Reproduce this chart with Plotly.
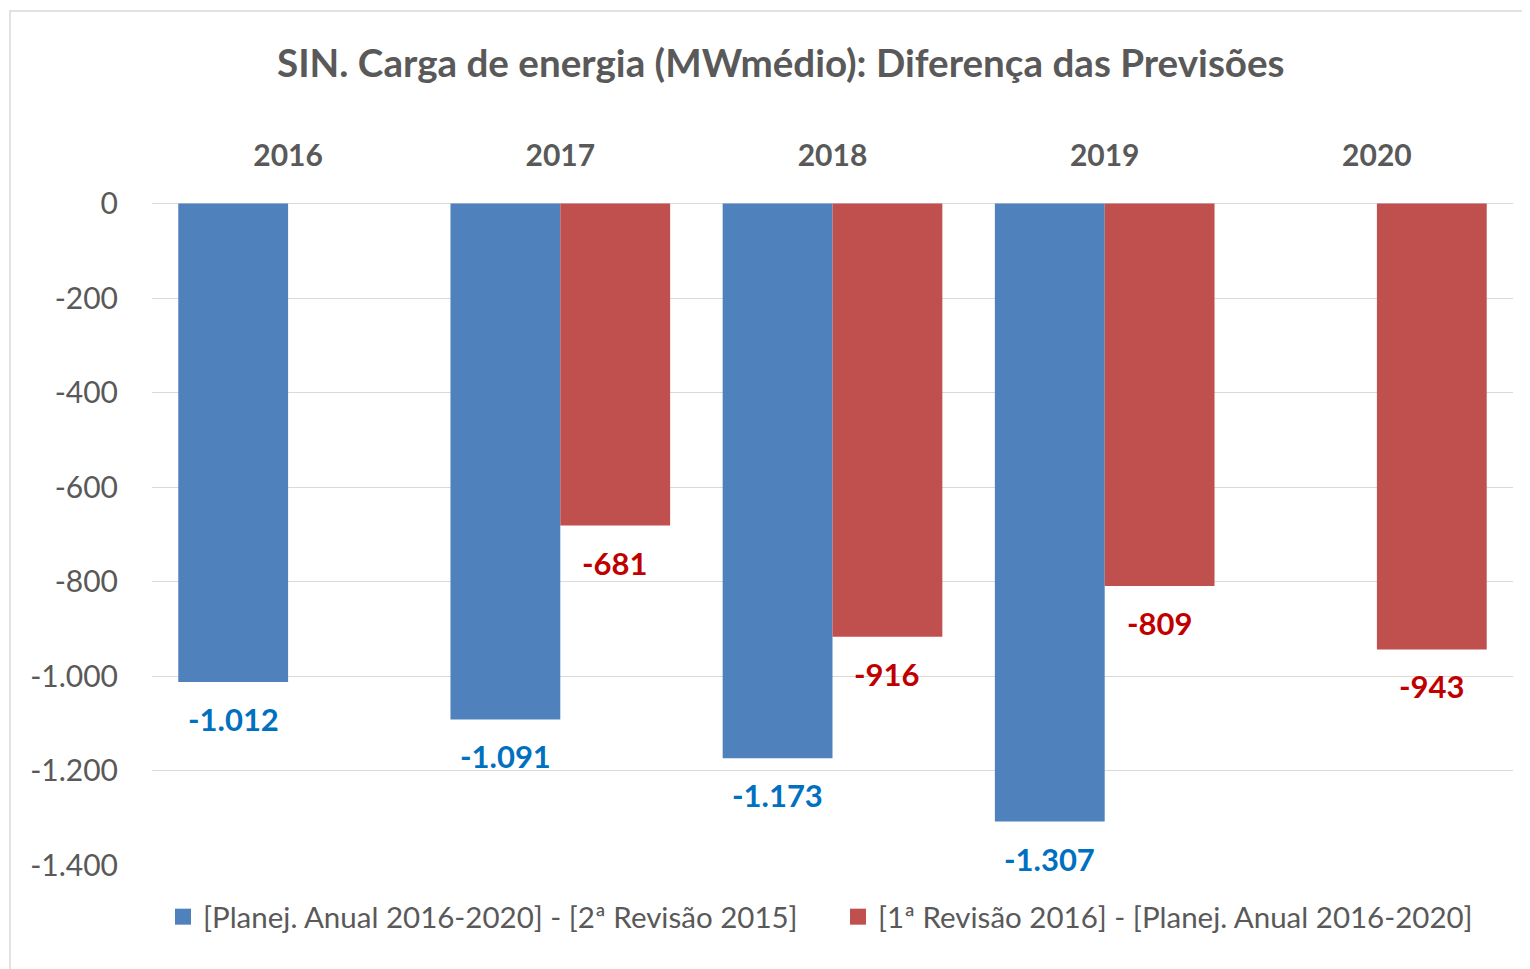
import plotly.graph_objects as go

years = ["2016", "2017", "2018", "2019", "2020"]
serie_azul_nome = "[Planej. Anual 2016-2020] - [2ª Revisão 2015]"
serie_verm_nome = "[1ª Revisão 2016] - [Planej. Anual 2016-2020]"
serie_azul = [-1012, -1091, -1173, -1307, None]
serie_verm = [None, -681, -916, -809, -943]
y_tickvals = [0, -200, -400, -600, -800, -1000, -1200, -1400]
y_ticktext = ["0", "-200", "-400", "-600", "-800", "-1.000", "-1.200", "-1.400"]

FONT = "Lato"
GREY = "#595959"
BLUE = "#4F81BD"
RED = "#C0504D"
BLUE_TXT = "#0070C0"
RED_TXT = "#C00000"

# page has an 8px body margin; work in screen pixels and convert
OFF = 8
W, H = 1530 - OFF, 969 - OFF
PL, PR, PT, PB = 152, 1513, 203, 866  # plot area in screen px
PW, PH = PR - PL, PB - PT


def px_x(x):
    return (x - PL) / PW


def px_y(y):
    return (PB - y) / PH


def fmt(v):
    return f"{v:,}".replace(",", ".")


fig = go.Figure()
fig.add_trace(go.Bar(x=years, y=serie_azul, name=serie_azul_nome, showlegend=False,
                     marker=dict(color=BLUE, line=dict(width=0))))
fig.add_trace(go.Bar(x=years, y=serie_verm, name=serie_verm_nome, showlegend=False,
                     marker=dict(color=RED, line=dict(width=0))))
# legend-only entries with larger square swatches
for nm, col in [(serie_azul_nome, BLUE), (serie_verm_nome, RED)]:
    fig.add_trace(go.Scatter(x=[None], y=[None], mode="markers", name=nm,
                             marker=dict(symbol="square", size=17, color=col)))

BARGAP = 0.193
half = (1 - BARGAP) / 4  # offset of each bar centre from category centre
annotations = []
for i, v in enumerate(serie_azul):
    if v is not None:
        annotations.append(dict(x=i - half, y=v, xref="x", yref="y", text=fmt(v),
                                showarrow=False, yanchor="top", yshift=-16,
                                font=dict(family=FONT, size=31, color=BLUE_TXT, weight="bold")))
for i, v in enumerate(serie_verm):
    if v is not None:
        annotations.append(dict(x=i + half, y=v, xref="x", yref="y", text=fmt(v),
                                showarrow=False, yanchor="top", yshift=-16,
                                font=dict(family=FONT, size=31, color=RED_TXT, weight="bold")))

annotations.append(dict(text="SIN. Carga de energia (MWmédio): Diferença das Previsões",
                        xref="paper", yref="paper", x=px_x(781), y=px_y(62),
                        xanchor="center", yanchor="middle", showarrow=False,
                        font=dict(family=FONT, size=38.6, color=GREY, weight="bold")))

fig.update_layout(
    width=W, height=H,
    margin=dict(l=PL - OFF, r=W - (PR - OFF), t=PT - OFF, b=H - (PB - OFF), autoexpand=False),
    paper_bgcolor="white", plot_bgcolor="white",
    barmode="group", bargap=BARGAP, bargroupgap=0,
    font=dict(family=FONT, color=GREY),
    showlegend=True,
    legend=dict(orientation="h", x=px_x(163), xanchor="left",
                y=px_y(917), yanchor="middle",
                font=dict(family=FONT, size=29.5, color=GREY),
                itemwidth=30, entrywidth=630, traceorder="normal"),
    annotations=annotations,
    shapes=[dict(type="rect", xref="paper", yref="paper",
                 x0=px_x(10), x1=px_x(1545),
                 y0=px_y(985), y1=px_y(11),
                 line=dict(color="#D9D9D9", width=1.5), layer="below")],
)
fig.update_xaxes(type="category", side="top", showgrid=False, showline=False,
                 ticks="", ticklabelstandoff=30,
                 tickfont=dict(family=FONT, size=30, color=GREY, weight="bold"))
fig.update_yaxes(range=[-1401, 1], tickvals=y_tickvals, ticktext=y_ticktext,
                 showgrid=True, gridcolor="#D9D9D9", gridwidth=1.2,
                 zeroline=True, zerolinecolor="#D9D9D9", zerolinewidth=1.2,
                 showline=False, ticks="", ticklabelstandoff=33,
                 tickfont=dict(family=FONT, size=30, color=GREY))

fig.write_html("out.html")
